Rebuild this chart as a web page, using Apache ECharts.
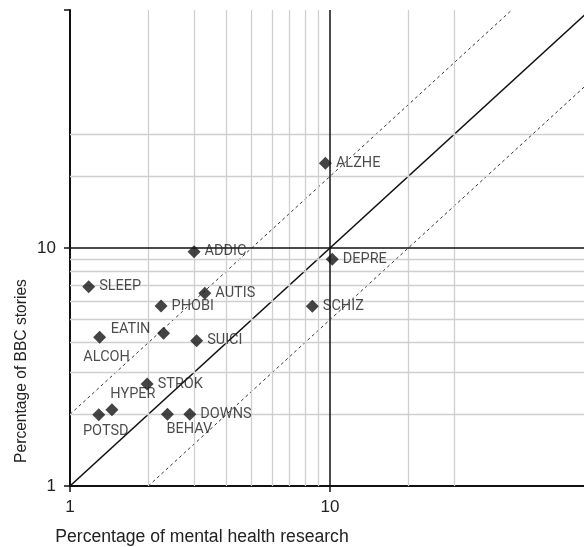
<!DOCTYPE html>
<html><head><meta charset="utf-8">
<script src="https://cdn.jsdelivr.net/npm/echarts@6/dist/echarts.min.js"></script>
<style>html,body{margin:0;padding:0;background:#fff}#c{width:584px;height:547px}</style>
</head><body><div id="c"></div>
<script>
// ---- data ----
const names = ['ALZHE','ADDIC','DEPRE','SLEEP','AUTIS','PHOBI','SCHIZ','EATIN','ALCOH','SUICI','STROK','HYPER','POTSD','BEHAV','DOWNS'];
const researchPct = [9.6, 3.0, 10.2, 1.18, 3.3, 2.24, 8.55, 2.29, 1.30, 3.07, 1.98, 1.45, 1.29, 2.37, 2.89];
const bbcPct = [22.7, 9.65, 8.97, 6.88, 6.45, 5.71, 5.69, 4.38, 4.22, 4.08, 2.68, 2.09, 1.99, 2.0, 2.0];
const minorGridValues = [2, 3, 4, 5, 6, 7, 8, 9, 20, 30];
const majorGridValues = [10];
const parityLine = [[1, 1], [100, 100]];
const upperLine = [[1, 2], [50, 100]];
const lowerLine = [[2, 1], [100, 50]];

// ---- styles ----
const labelFont = 'Roboto, "Liberation Sans", Arial, sans-serif';
const axisFont = '"Liberation Sans", Arial, sans-serif';
const labelPlacement = {
  ALCOH: { position: 'inside', offset: [7, 20] },
  EATIN: { position: 'inside', offset: [-33, -4] },
  HYPER: { position: 'inside', offset: [21, -15] },
  POTSD: { position: 'inside', offset: [7, 17] },
  BEHAV: { position: 'inside', offset: [22, 15] }
};

const points = names.map((n, i) => {
  const item = { name: n, value: [researchPct[i], bbcPct[i]] };
  if (labelPlacement[n]) item.label = labelPlacement[n];
  return item;
});

const chart = echarts.init(document.getElementById('c'), null, { renderer: 'canvas' });
const axisCommon = {
  type: 'log', logBase: 10, min: 1, max: 100,
  axisLine: { show: true, onZero: false, lineStyle: { color: '#111', width: 2 } },
  axisTick: { show: true, length: 6, lineStyle: { color: '#111', width: 1.5 } },
  splitLine: { show: false },
  axisLabel: {
    fontSize: 17, color: '#222', fontFamily: axisFont,
    formatter: v => (v >= 100 ? '' : String(v))
  }
};
chart.setOption({
  animation: false,
  grid: { left: 70, right: -6, top: 10, bottom: 61, containLabel: false, outerBoundsMode: 'none' },
  xAxis: Object.assign({}, axisCommon, { axisLabel: Object.assign({}, axisCommon.axisLabel, { margin: 13 }) }),
  yAxis: Object.assign({}, axisCommon, { axisLabel: Object.assign({}, axisCommon.axisLabel, { margin: 14 }) }),
  graphic: [
    { type: 'text', x: 202, y: 537, style: { text: 'Percentage of mental health research', font: '17.6px ' + axisFont, fill: '#222', align: 'center', verticalAlign: 'middle' } },
    { type: 'text', x: 22, y: 371, rotation: Math.PI / 2, style: { text: 'Percentage of BBC stories', font: '15.6px ' + axisFont, fill: '#222', align: 'center', verticalAlign: 'middle' } }
  ],
  series: [
    {
      type: 'line', data: [], silent: true, z: 1,
      markLine: {
        silent: true, symbol: ['none', 'none'], label: { show: false }, animation: false,
        lineStyle: { color: '#cfcfcf', width: 1.3, type: 'solid' },
        data: minorGridValues.map(v => ({ xAxis: v })).concat(minorGridValues.map(v => ({ yAxis: v })))
      }
    },
    {
      type: 'line', data: [], silent: true, z: 2,
      markLine: {
        silent: true, symbol: ['none', 'none'], label: { show: false }, animation: false,
        lineStyle: { color: '#111', width: 1.5, type: 'solid' },
        data: majorGridValues.map(v => ({ xAxis: v })).concat(majorGridValues.map(v => ({ yAxis: v })))
      }
    },
    { type: 'line', data: parityLine, showSymbol: false, symbol: 'none', z: 3, lineStyle: { color: '#111', width: 1.6 } },
    { type: 'line', data: upperLine, showSymbol: false, symbol: 'none', z: 3, lineStyle: { color: '#333', width: 1, type: [3, 3] } },
    { type: 'line', data: lowerLine, showSymbol: false, symbol: 'none', z: 3, lineStyle: { color: '#333', width: 1, type: [3, 3] } },
    {
      type: 'scatter', z: 5, symbol: 'diamond', symbolSize: 13,
      itemStyle: { color: '#151515' },
      label: { show: true, position: 'right', distance: 4, formatter: '{b}', color: '#1e1e1e', fontSize: 14.5, fontFamily: labelFont },
      data: points
    }
  ]
});
</script></body></html>
